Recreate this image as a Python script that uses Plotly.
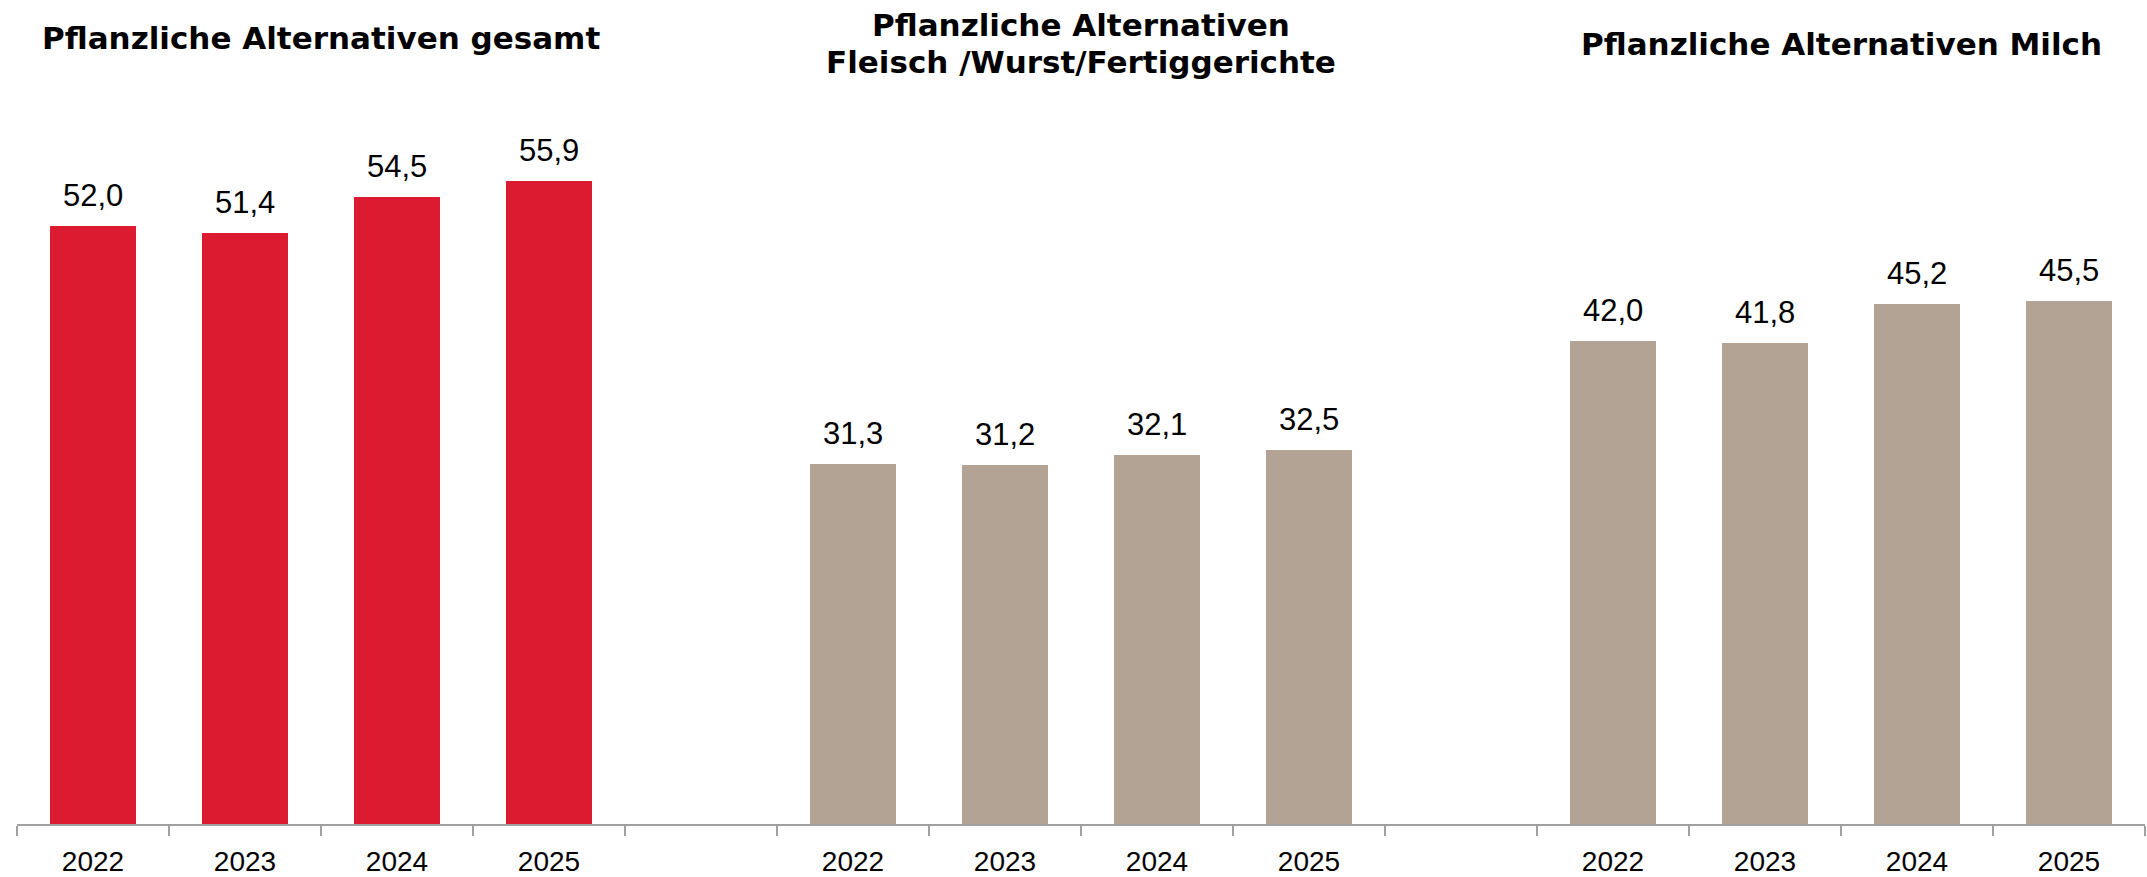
import plotly.graph_objects as go

# Data
years = ["2022", "2023", "2024", "2025"]
title_gesamt = ["Pflanzliche Alternativen gesamt"]
title_fleisch = ["Pflanzliche Alternativen", "Fleisch /Wurst/Fertiggerichte"]
title_milch = ["Pflanzliche Alternativen Milch"]
values_gesamt = [52.0, 51.4, 54.5, 55.9]
values_fleisch = [31.3, 31.2, 32.1, 32.5]
values_milch = [42.0, 41.8, 45.2, 45.5]

group_titles = [title_gesamt, title_fleisch, title_milch]
group_values = [values_gesamt, values_fleisch, values_milch]
group_colors = ["#DC1B30", "#B3A394", "#B3A394"]
# paper y of each title line
title_y = [[1.139], [1.158, 1.104], [1.130]]

SLOTS = len(years) + 1  # one empty slot between groups

fig = go.Figure()

tick_pos, tick_text = [], []
for g, vals in enumerate(group_values):
    xs = [g * SLOTS + i for i in range(len(years))]
    tick_pos += xs
    tick_text += years
    fig.add_trace(go.Bar(
        x=xs, y=vals,
        width=0.56,
        marker=dict(color=group_colors[g], line=dict(width=0)),
        showlegend=False,
        hoverinfo="x+y",
    ))
    # value labels
    for x, v in zip(xs, vals):
        fig.add_annotation(
            x=x, y=v, xref="x", yref="y",
            text=f"{v:.1f}".replace(".", ","),
            showarrow=False, yanchor="bottom", yshift=11,
            font=dict(size=31, color="black", family="Liberation Sans, Arial"),
        )
    # group title
    for line, ty in zip(group_titles[g], title_y[g]):
        fig.add_annotation(
            x=g * SLOTS + (len(years) - 1) / 2, y=ty,
            xref="x", yref="paper",
            text="<b>" + line + "</b>",
            showarrow=False, yanchor="middle",
            font=dict(size=31, color="black", family="DejaVu Sans"),
        )

n_slots = SLOTS * len(group_values) - 1
boundaries = [i - 0.5 for i in range(n_slots + 1)]

fig.update_layout(
    width=2147, height=877,
    margin=dict(l=17, r=2, t=134, b=53),
    plot_bgcolor="white", paper_bgcolor="white",
    font=dict(family="Liberation Sans, Arial", color="black"),
    bargap=0,
    xaxis=dict(
        range=[-0.5, n_slots - 0.5],
        tickvals=tick_pos, ticktext=tick_text,
        ticks="", ticklabelstandoff=11,
        tickfont=dict(size=28, color="black"),
        showline=True, linecolor="#A0A0A0", linewidth=2,
        showgrid=False, zeroline=False, automargin=False,
        minor=dict(tickvals=boundaries, ticks="outside", ticklen=10,
                   tickcolor="#A0A0A0", tickwidth=2, showgrid=False),
    ),
    yaxis=dict(range=[0, 60], visible=False, showgrid=False, automargin=False),
)

# drop the default 8px body margin so the figure fills the window exactly
fig.write_html("out.html", config={"displayModeBar": False},
               post_script="document.body.style.margin='0';")
